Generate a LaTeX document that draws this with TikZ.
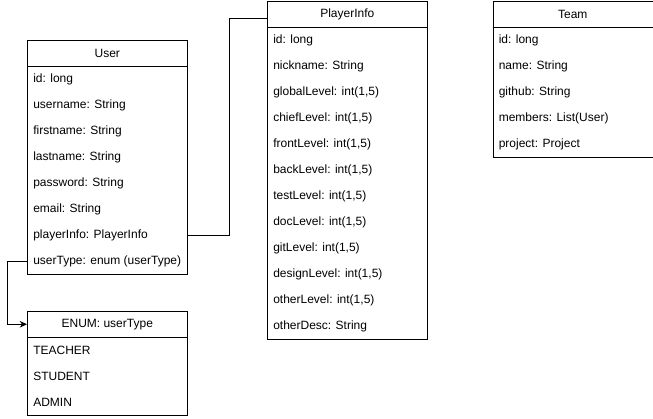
\documentclass[tikz,border=0pt]{standalone}
\usepackage{fontspec}
\setmainfont{Liberation Sans}
\usetikzlibrary{arrows.meta}
\tikzset{
  px/.style={x=0.75pt,y=-0.75pt},
  cls/.style={draw, line width=0.75pt, minimum width=120pt, anchor=north west, inner sep=0pt, fill=white},
  head/.style={minimum width=120pt, minimum height=19.5pt, anchor=north west, inner sep=0pt, font=\fontsize{9}{11}\selectfont},
  fld/.style={anchor=west, inner sep=0pt, font=\fontsize{9}{11}\selectfont},
  conn/.style={draw, line width=0.75pt},
}
\newcommand\umlbox[6]{%
  \node[cls, minimum height={(#5+1)*19.5pt}] (#1) at (#2,#3) {};
  \node[head] (#1-h) at (#2,#3) {#4};
  \draw[line width=0.75pt] (#1-h.south west) -- (#1-h.south east);
  \foreach \t [count=\i] in {#6} {
    \node[fld] (#1-\i) at ({#2+6},{#3+13+26*\i}) {\t};
  }
}
\begin{document}
\begin{tikzpicture}[px]
\useasboundingbox (0,0) rectangle (653,418);
\umlbox{user}{27}{40}{User}{8}{id: long, username: String, firstname: String, lastname: String, password: String, email: String, playerInfo: PlayerInfo, userType: enum (userType)}
\umlbox{pi}{267}{1}{PlayerInfo}{12}{id: long, nickname: String, {globalLevel: int(1,5)}, {chiefLevel: int(1,5)}, {frontLevel: int(1,5)}, {backLevel: int(1,5)}, {testLevel: int(1,5)}, {docLevel: int(1,5)}, {gitLevel: int(1,5)}, {designLevel: int(1,5)}, {otherLevel: int(1,5)}, otherDesc: String}
\umlbox{team}{492.5}{1}{Team}{5}{id: long, name: String, github: String, members: List(User), project: Project}
\umlbox{enum}{27}{311}{ENUM: userType}{3}{TEACHER, STUDENT, ADMIN}
\coordinate (pi-in) at (267,18);
\draw[conn] (user-7 -| user.east) -- ++(41,0) |- (pi-in);
\draw[conn, -{Stealth[length=5.5pt,width=5pt]}] (user-8 -| user.west) -- ++(-20,0) |- (enum-h.west);
\end{tikzpicture}
\end{document}
